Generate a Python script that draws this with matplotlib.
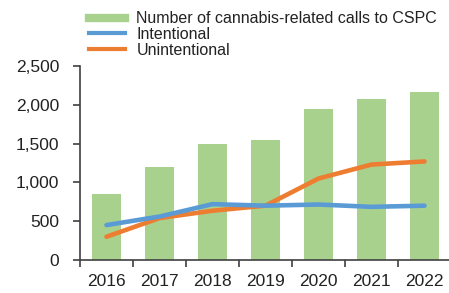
import numpy as np
import matplotlib
matplotlib.use("Agg")
import matplotlib.pyplot as plt
from matplotlib.lines import Line2D

years = ["2016", "2017", "2018", "2019", "2020", "2021", "2022"]
total_calls = [850, 1200, 1490, 1540, 1940, 2070, 2170]
intentional = [450, 560, 720, 700, 715, 685, 700]
unintentional = [300, 540, 635, 700, 1050, 1230, 1270]

green = "#A9D18E"
blue = "#5B9BD5"
orange = "#ED7D31"

plt.rcParams["font.family"] = ["Liberation Sans", "DejaVu Sans"]

fig = plt.figure(figsize=(4.49, 2.93), dpi=100)
ax = fig.add_axes([80 / 449, 33 / 293, 371 / 449, 194 / 293])

x = np.arange(len(years))
ax.bar(x, total_calls, width=0.55, color=green, zorder=1)
ax.plot(x, intentional, color=blue, lw=3.3, solid_capstyle="round", zorder=3)
ax.plot(x, unintentional, color=orange, lw=3.3, solid_capstyle="round", zorder=2)

ax.set_xlim(-0.5, len(years) - 0.5)
ax.set_ylim(0, 2500)
ax.set_yticks(range(0, 2501, 500))
ax.set_yticklabels([f"{v:,}" for v in range(0, 2501, 500)])
ax.set_xticks(x)
ax.set_xticklabels(years)
ax.set_xticks(np.arange(-0.5, len(years)), minor=True)
ax.tick_params(axis="x", which="major", length=0, pad=10, labelsize=12.5, colors="#222222")
ax.tick_params(axis="x", which="minor", length=5, width=1.2, color="#404040")
ax.tick_params(axis="y", length=5, width=1.2, color="#404040", pad=10, labelsize=12.5,
               labelcolor="#222222")

for side in ["top", "right"]:
    ax.spines[side].set_visible(False)
for side in ["left", "bottom"]:
    ax.spines[side].set_color("#404040")
    ax.spines[side].set_linewidth(1.2)

handles = [Line2D([], [], color=green, lw=6),
           Line2D([], [], color=blue, lw=3),
           Line2D([], [], color=orange, lw=3)]
labels = ["Number of cannabis-related calls to CSPC", "Intentional", "Unintentional"]
fig.legend(handles, labels, loc="upper left", bbox_to_anchor=(78 / 449, 1.0), frameon=False,
           fontsize=11.5, handlelength=2.25, handletextpad=0.7, labelspacing=0.05,
           borderaxespad=0.3, labelcolor="#222222")

fig.savefig("out.png", dpi=100)
